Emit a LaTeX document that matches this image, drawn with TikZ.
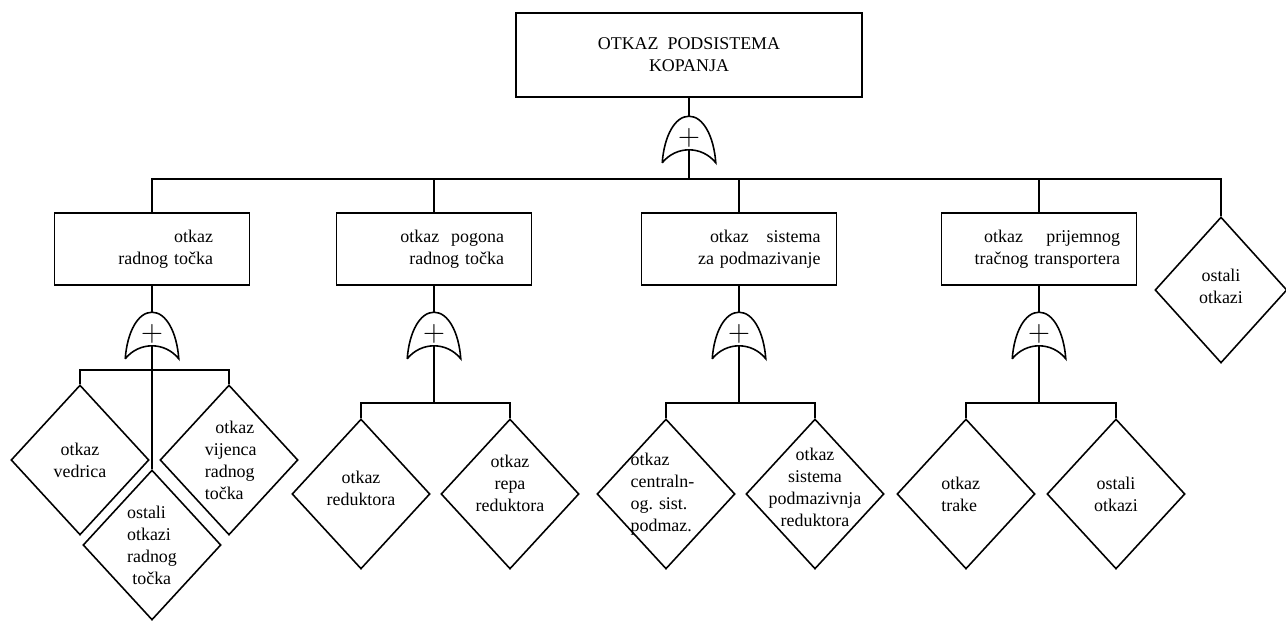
\documentclass[tikz,border=0pt]{standalone}
\usepackage{fontspec}
\setmainfont{Liberation Serif}
\usetikzlibrary{shapes.geometric,calc}
\newcommand\gatebody[1]{%
  \draw ($(#1.south west)+(0,13)$)
    .. controls ($(#1.south west)+(2,-14)$) and ($(#1.north)+(-14,0)$) .. (#1.north)
    .. controls ($(#1.north)+(14,0)$) and ($(#1.south east)+(-2,-14)$) .. ($(#1.south east)+(0,13)$)
    .. controls ($(#1.south east)+(-14,-4.3)$) and ($(#1.south west)+(14,-4.3)$) .. ($(#1.south west)+(0,13)$);}
\newcommand\gateplus{\raisebox{-7.2pt}[0pt][0pt]{$+$}}

\begin{document}
\begin{tikzpicture}[x=0.02cm,y=-0.02cm,line width=0.9pt,
  font=\fontsize{10.2}{12.5}\selectfont,
  top/.style={draw,minimum width=6.92cm,minimum height=1.68cm,align=center},
  evt/.style={draw,minimum width=3.9cm,minimum height=1.44cm,align=right},
  bas/.style={draw,diamond,minimum width=2.76cm,minimum height=3cm,inner sep=0pt},
  lab/.style={align=center,inner sep=0pt},
  gt/.style={minimum width=1.04cm,minimum height=0.64cm,inner sep=0pt,font=\LARGE}]
 \useasboundingbox (0,0) rectangle (1286,621);
 % ---- top event ----
 \node[top] (T) at (689,55) {OTKAZ\ \ PODSISTEMA\\KOPANJA};
 \node[gt] (g0) at (689,133) {\gateplus};
 \gatebody{g0}
 \coordinate (bus0) at (689,179);
 \draw (T.south)--(g0.north);
 \draw (g0.south)--(bus0);
 % ---- intermediate events ----
 \node[evt,text width=2.44cm] (B1) at (152,249) {otkaz\\radnog točka};
 \node[evt,text width=2.8cm] (B2) at (434,249) {otkaz\ \ pogona\\radnog točka};
 \node[evt,text width=3.26cm] (B3) at (739,249) {otkaz\ \ \ sistema\\za podmazivanje};
 \node[evt,text width=3.24cm] (B4) at (1039,249) {otkaz\hspace{1.3em}prijemnog\\tračnog transportera};
 \node[bas,minimum width=2.64cm,minimum height=2.92cm,label={[lab,yshift=2pt]center:ostali\\otkazi}] (D5) at (1221,290) {};
 \draw (B1.north) |- (bus0) -| (D5.north);
 \draw (bus0) -| (B2.north);
 \draw (bus0) -| (B3.north);
 \draw (bus0) -| (B4.north);
 % ---- gates ----
 \node[gt] (g1) at (152,329) {\gateplus};
 \node[gt] (g2) at (434,329) {\gateplus};
 \node[gt] (g3) at (739,329) {\gateplus};
 \node[gt] (g4) at (1039,329) {\gateplus};
 \gatebody{g1}
 \gatebody{g2}
 \gatebody{g3}
 \gatebody{g4}
 \draw (B1.south)--(g1.north);
 \draw (B2.south)--(g2.north);
 \draw (B3.south)--(g3.north);
 \draw (B4.south)--(g4.north);
 % ---- basic events ----
 \node[bas,label={[lab]center:otkaz\\vedrica}] (D11) at (80,460) {};
 \node[bas,label={[lab,align=left,xshift=1pt]center:\hspace*{6pt}otkaz\\vijenca\\radnog\\točka}] (D12) at (229,460) {};
 \node[bas,label={[lab,align=left]center:ostali\\otkazi\\radnog\\\hspace*{3pt}točka}] (D13) at (152,545) {};
 \node[bas,label={[lab,yshift=3pt]center:otkaz\\reduktora}] (D21) at (361,494) {};
 \node[bas,label={[lab,yshift=6pt]center:otkaz\\repa\\reduktora}] (D22) at (510,494) {};
 \node[bas,label={[lab,align=left,xshift=-2pt]center:otkaz\\centraln-\\og. sist.\\podmaz.}] (D31) at (666,494) {};
 \node[bas,label={[lab,yshift=4pt]center:otkaz\\sistema\\podmazivnja\\reduktora}] (D32) at (815,494) {};
 \node[bas,label={[lab,align=left,xshift=-3pt]center:otkaz\\trake}] (D41) at (966,494) {};
 \node[bas,label={[lab]center:ostali\\otkazi}] (D42) at (1116,494) {};
 \coordinate (bus1) at (152,370);
 \coordinate (bus2) at (434,403);
 \coordinate (bus3) at (739,403);
 \coordinate (bus4) at (1039,403);
 \draw (g1.south)--(D13.north);
 \draw (bus1) -| (D11.north);
 \draw (bus1) -| (D12.north);
 \draw (g2.south)--(bus2);
 \draw (bus2) -| (D21.north);
 \draw (bus2) -| (D22.north);
 \draw (g3.south)--(bus3);
 \draw (bus3) -| (D31.north);
 \draw (bus3) -| (D32.north);
 \draw (g4.south)--(bus4);
 \draw (bus4) -| (D41.north);
 \draw (bus4) -| (D42.north);
\end{tikzpicture}
\end{document}
